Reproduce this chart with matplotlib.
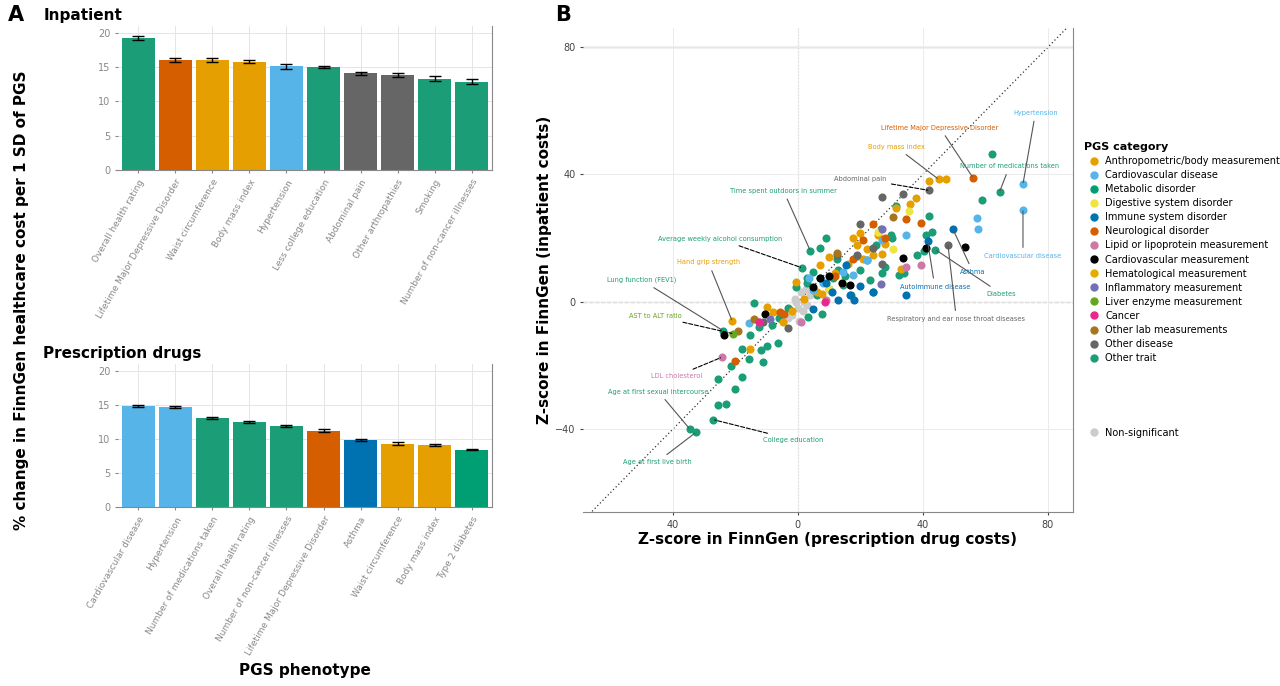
import matplotlib
matplotlib.use("Agg")
import matplotlib.pyplot as plt
import numpy as np
from matplotlib.lines import Line2D

# ---------------- data ----------------
cat_colors = {
    "Anthropometric/body measurement": "#E69F00",
    "Cardiovascular disease": "#56B4E9",
    "Metabolic disorder": "#009E73",
    "Digestive system disorder": "#F0E442",
    "Immune system disorder": "#0072B2",
    "Neurological disorder": "#D55E00",
    "Lipid or lipoprotein measurement": "#CC79A7",
    "Cardiovascular measurement": "#000000",
    "Hematological measurement": "#E6AB02",
    "Inflammatory measurement": "#7570B3",
    "Liver enzyme measurement": "#66A61E",
    "Cancer": "#E7298A",
    "Other lab measurements": "#A6761D",
    "Other disease": "#666666",
    "Other trait": "#1B9E77",
}

inp_names = ["Overall health rating", "Lifetime Major Depressive Disorder", "Waist circumference",
             "Body mass index", "Hypertension", "Less college education", "Abdominal pain",
             "Other arthropathies", "Smoking", "Number of non-cancer illnesses"]
inp_vals = [19.3, 16.1, 16.0, 15.8, 15.1, 15.0, 14.1, 13.9, 13.3, 12.9]
inp_err = [0.3, 0.3, 0.3, 0.25, 0.35, 0.15, 0.2, 0.3, 0.35, 0.3]
inp_cats = ["Other trait", "Neurological disorder", "Anthropometric/body measurement",
            "Anthropometric/body measurement", "Cardiovascular disease", "Other trait",
            "Other disease", "Other disease", "Other trait", "Other trait"]

rx_names = ["Cardiovascular disease", "Hypertension", "Number of medications taken",
            "Overall health rating", "Number of non-cancer illnesses", "Lifetime Major Depressive Disorder",
            "Asthma", "Waist circumference", "Body mass index", "Type 2 diabetes"]
rx_vals = [14.8, 14.7, 13.1, 12.5, 11.9, 11.2, 9.8, 9.3, 9.1, 8.4]
rx_err = [0.15, 0.1, 0.15, 0.2, 0.2, 0.2, 0.15, 0.2, 0.15, 0.1]
rx_cats = ["Cardiovascular disease", "Cardiovascular disease", "Other trait", "Other trait",
           "Other trait", "Neurological disorder", "Immune system disorder",
           "Anthropometric/body measurement", "Anthropometric/body measurement", "Metabolic disorder"]

pts = {
    "Other trait": (
        [62, 59, 42, 43, 41, 40.5, 9, 4, 7, 64.5, 44, -14, -17.7, -15.5, -21.3, -18, -25.5, -20.2, -25.5, -23,
         -11.2, -11.7, -10, -6.3, -15.2, -12.5, -8.3, 7.7, 3.4, 23, 24, 27, 28, 29.8, 32.4, 34, 26.7, 31.5,
         18.8, 12.4, 4.9, 2.8, -0.5, 7, 14.6, 11.3, 38, 1.3, -24, -34.5, -32.6, -27, 20, 22, 15, 10, 6, 3,
         -3, -6, 25, 30, 17, 13],
        [46.5, 32, 27, 22, 21, 16, 20, 16, 17, 34.5, 16.4, -0.5, -14.7, -18, -20, -23.7, -24.2, -27.4, -32.3, -32,
         -19, -15, -14, -13, -10.3, -7.9, -7.4, -3.7, -4.7, 6.8, 3.2, 9, 11, 21, 8.4, 9, 23, 30,
         14.5, 13.5, 9.3, 7.4, 4.7, 7.4, 5.3, 7.4, 14.7, 10.7, -9, -40, -41, -37, 10, 13, 8, 4, 2, 6,
         -2, -5, 18, 20, 2, 10]),
    "Anthropometric/body measurement": (
        [45, 42, 47.5, 36, 37.7, 31.5, 17.7, 20, 22, 24, 21, 10, 7, -0.5, 6, 7.7, -10, -8, -4.8, -15.2, 28, 33,
         25.5, -21, 12, 16, 19, 27, 2, -2],
        [38.5, 38, 38.7, 30.6, 32.6, 29.5, 20, 21.5, 16.7, 14.6, 13.6, 14, 11.6, 6.3, 3.2, 2.6, -1.6, -3.2,
         -6.3, -14.7, 18.3, 10.3, 21, -6, 9, 12, 18, 15, 1, -3]),
    "Digestive system disorder": ([35.4, 25.6, 14, 30.5, 10], [28.5, 22, 5.8, 16.7, 4]),
    "Cardiovascular disease": (
        [72, 72, 57.7, 57.2, 34.6, 27, 17.7, 5, 3.7, -15.5, 14.6, 8, 22],
        [37, 29, 23, 26.3, 21, 19.4, 8.4, 3.7, 7.4, -6.8, 9.5, 6, 13]),
    "Immune system disorder": (
        [49.5, 41.5, 34.5, 24, 18, 16.6, 13, 15.5, 9, 4.9, 11, 20],
        [23, 19, 2, 3.2, 0.5, 2.1, 0.5, 11.6, 5.8, -2.1, 3, 5]),
    "Neurological disorder": (
        [56, 34.6, 39.4, 24, 21, 17.7, -5.7, -20, -4.3, 28, 12],
        [39, 26, 24.8, 24.5, 19.3, 13.6, -3.2, -18.7, -3.7, 20, 8]),
    "Cardiovascular measurement": (
        [53.5, 41, 33.5, 16.6, 7, -10.6, 4.9, -23.5, 10, 14],
        [17.2, 16.8, 13.9, 5.3, 7.4, -3.7, 4.7, -10.4, 8, 6]),
    "Other disease": (
        [42, 48, 27, 33.5, 20, 19, 12.4, 27, -3.3, -11, 24],
        [35, 18, 33, 34, 24.5, 14.7, 14.7, 11.8, -8.3, -6.3, 17]),
    "Lipid or lipoprotein measurement": (
        [39.4, 34.5, 1, 9, -12.5, -24.3], [11.6, 10.8, -6.3, 0.5, -6.3, -17.4]),
    "Inflammatory measurement": ([27, 26.6, -9], [23, 5.5, -5.3]),
    "Other lab measurements": ([30.5, -19, 12.4, -14], [26.7, -9.3, 15.2, -5.3]),
    "Liver enzyme measurement": ([-20.7], [-10]),
    "Cancer": ([8.6, -12.5], [0, -6.3]),
}
ns_x = [-2, 0, 2, 4, -1, 1, 3, -3, 0.5, 2.5, -0.5, 1.5]
ns_y = [-4, -2, 0, 2, 1, 3, -1, -5, -6, 4, 0, -3]

labels = [
    ("Hypertension", 72, 37, 76, 59.4, "Cardiovascular disease", False),
    ("Lifetime Major Depressive Disorder", 56, 39, 45.4, 54.7, "Neurological disorder", False),
    ("Body mass index", 45, 38.5, 31.5, 48.6, "Anthropometric/body measurement", False),
    ("Number of medications taken", 64.5, 34.5, 67.7, 42.6, "Other trait", False),
    ("Abdominal pain", 42, 35, 19.8, 38.7, "Other disease", True),
    ("Time spent outdoors in summer", 4, 16, -4.6, 34.9, "Other trait", False),
    ("Average weekly alcohol consumption", 1.3, 10.7, -24.9, 19.7, "Other trait", True),
    ("Hand grip strength", -21, -6, -28.6, 12.4, "Anthropometric/body measurement", False),
    ("Lung function (FEV1)", -24, -9, -49.9, 6.8, "Other trait", False),
    ("AST to ALT ratio", -20.7, -10, -45.7, -4.4, "Liver enzyme measurement", True),
    ("LDL cholesterol", -24.3, -17.4, -38.8, -23.3, "Lipid or lipoprotein measurement", True),
    ("Age at first sexual intercourse", -34.5, -40, -44.6, -28.2, "Other trait", False),
    ("Age at first live birth", -32.6, -41, -45, -50.3, "Other trait", False),
    ("College education", -27, -37, -1.5, -43.3, "Other trait", True),
    ("Cardiovascular disease", 72, 29, 72, 14.4, "Cardiovascular disease", False),
    ("Asthma", 49.5, 23, 56, 9.4, "Immune system disorder", False),
    ("Autoimmune disease", 41.5, 19, 43.8, 4.8, "Immune system disorder", False),
    ("Diabetes", 44, 16.4, 65, 2.6, "Other trait", False),
    ("Respiratory and ear nose throat diseases", 48, 18, 50.7, -5.4, "Other disease", False),
]

# ---------------- figure ----------------
W, H = 1280, 686
fig = plt.figure(figsize=(W / 100, H / 100), dpi=100)

def ax_px(l, t, r, b):
    return fig.add_axes([l / W, 1 - b / H, (r - l) / W, (b - t) / H])

def bar_panel(ax, names, vals, errs, cats, title):
    x = np.arange(len(names))
    ax.bar(x, vals, width=0.9, color=[cat_colors[c] for c in cats], zorder=2)
    ax.errorbar(x, vals, yerr=errs, fmt="none", ecolor="black", capsize=4, lw=1, zorder=3)
    ax.set_xlim(-0.55, len(names) - 0.45)
    ax.set_ylim(0, 21)
    ax.set_yticks([0, 5, 10, 15, 20])
    ax.set_xticks(x)
    ax.set_xticklabels(names, rotation=60, ha="right", rotation_mode="anchor", fontsize=6.5, color="#444444")
    ax.tick_params(axis="y", labelsize=7, colors="#444444")
    ax.tick_params(length=2, colors="#888888")
    ax.grid(True, color="#e5e5e5", lw=0.7, zorder=0)
    for s in ["top", "left"]:
        ax.spines[s].set_visible(False)
    for s in ["right", "bottom"]:
        ax.spines[s].set_color("#888888")
    ax.text(-0.2, 1.07, title, transform=ax.transAxes, fontsize=11, fontweight="bold", va="center")

axA1 = ax_px(118, 26, 492, 170)
bar_panel(axA1, inp_names, inp_vals, inp_err, inp_cats, "Inpatient")
axA2 = ax_px(118, 364, 492, 507)
bar_panel(axA2, rx_names, rx_vals, rx_err, rx_cats, "Prescription drugs")
axA2.set_xlabel("PGS phenotype", fontsize=11, fontweight="bold", labelpad=4)

fig.text(22 / W, 1 - 300 / H, "% change in FinnGen healthcare cost per 1 SD of PGS", rotation=90,
         va="center", ha="center", fontsize=11, fontweight="bold")
fig.text(8 / W, 1 - 15 / H, "A", fontsize=15, fontweight="bold", va="center")
fig.text(555 / W, 1 - 15 / H, "B", fontsize=15, fontweight="bold", va="center")

# ---------------- panel B ----------------
axB = ax_px(583, 28, 1073, 512)
axB.set_xlim(-68.7, 88)
axB.set_ylim(-66, 86)
axB.set_xticks([-40, 0, 40, 80])
axB.set_xticklabels(["40", "0", "40", "80"])
axB.set_yticks([-40, 0, 40, 80])
axB.grid(True, color="#ebebeb", lw=0.7, zorder=0)
axB.plot([-70, 90], [-70, 90], ls=(0, (1, 2)), color="#333333", lw=0.9, zorder=1)
axB.axhline(0, ls="--", color="black", lw=0.8, zorder=1)
axB.axvline(0, ls=(0, (1, 2)), color="#555555", lw=0.8, zorder=1)
axB.axhline(80, color="#888888", lw=0.9, zorder=1.5)
for s in ["top", "left"]:
    axB.spines[s].set_visible(False)
for s in ["right", "bottom"]:
    axB.spines[s].set_color("#888888")
axB.tick_params(labelsize=7, colors="#444444", length=2)

axB.scatter(ns_x, ns_y, s=34, color="#cccccc", zorder=2, linewidths=0)
for cat, (xs, ys) in pts.items():
    axB.scatter(xs, ys, s=34, color=cat_colors[cat], zorder=3, linewidths=0)

for txt, px, py, tx, ty, cat, dashed in labels:
    axB.annotate(txt, xy=(px, py), xytext=(tx, ty), fontsize=4.8, color=cat_colors[cat],
                 ha="center", va="center", zorder=4,
                 arrowprops=dict(arrowstyle="-", lw=0.8,
                                 color="black" if dashed else "#555555",
                                 ls="--" if dashed else "-", shrinkA=2, shrinkB=1))

axB.set_xlabel("Z-score in FinnGen (prescription drug costs)", fontsize=11, fontweight="bold", labelpad=2)
axB.set_ylabel("Z-score in FinnGen (inpatient costs)", fontsize=11, fontweight="bold", labelpad=2)

handles = [Line2D([], [], marker="o", ls="", color=c, markersize=5) for c in cat_colors.values()]
leg = fig.legend(handles, list(cat_colors.keys()), loc="upper left", bbox_to_anchor=(1080 / W, 1 - 138 / H),
                 frameon=False, fontsize=7, title="PGS category", title_fontproperties={"weight": "bold", "size": 8},
                 handletextpad=0.2, labelspacing=0.42, borderaxespad=0)
leg._legend_box.align = "left"
h2 = [Line2D([], [], marker="o", ls="", color="#cccccc", markersize=5)]
fig.legend(h2, ["Non-significant"], loc="upper left", bbox_to_anchor=(1080 / W, 1 - 424 / H),
           frameon=False, fontsize=7, handletextpad=0.2, borderaxespad=0)

fig.savefig("out.png", dpi=100)
